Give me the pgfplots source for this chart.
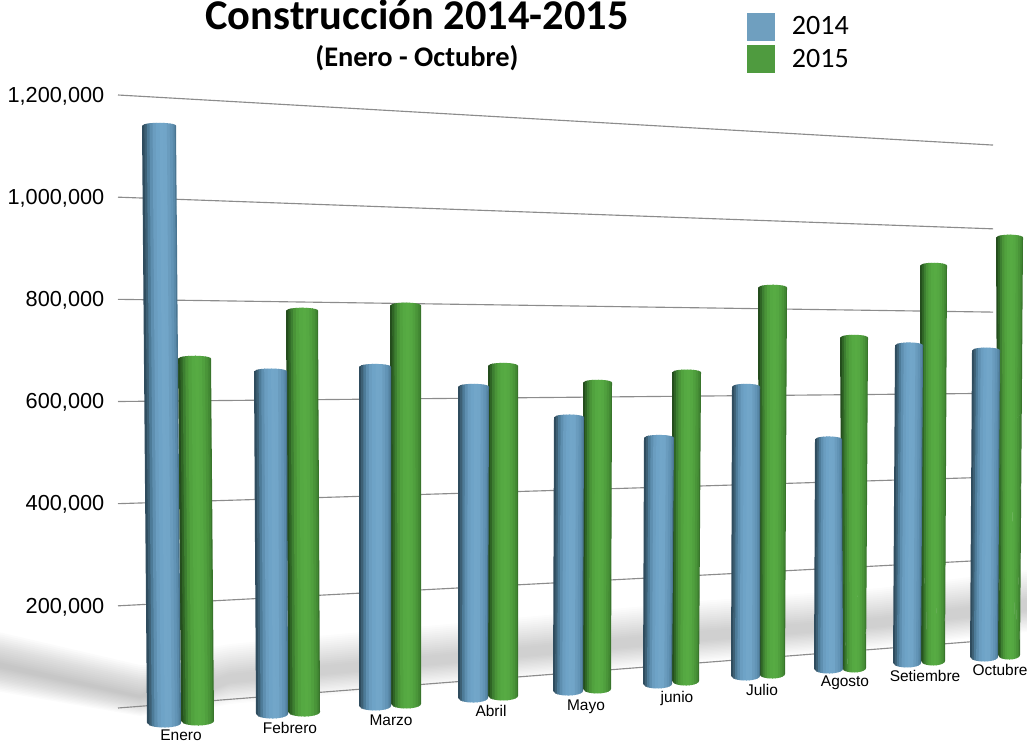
\documentclass[border=0pt]{standalone}
\usepackage{pgfplots}
\pgfplotsset{compat=1.18}
\usepackage{fontspec}
\setmainfont{Liberation Sans}
\newfontfamily\calfont{Carlito}
\definecolor{bS1}{HTML}{2F4C5E}\definecolor{bS2}{HTML}{3D6075}\definecolor{bS3}{HTML}{4D7B98}\definecolor{bS4}{HTML}{5E8FB0}
\definecolor{bS5}{HTML}{6A9DC0}\definecolor{bS6}{HTML}{6EA3C7}\definecolor{bS7}{HTML}{72A6C9}\definecolor{bS8}{HTML}{71A5C8}
\definecolor{bS9}{HTML}{6A9CBE}\definecolor{bS10}{HTML}{6294B6}\definecolor{bS11}{HTML}{5A8AAA}\definecolor{bS12}{HTML}{4A7591}
\definecolor{gS1}{HTML}{244D1D}\definecolor{gS2}{HTML}{2F6525}\definecolor{gS3}{HTML}{3D7F31}\definecolor{gS4}{HTML}{4A9438}
\definecolor{gS5}{HTML}{51A23E}\definecolor{gS6}{HTML}{55A942}\definecolor{gS7}{HTML}{57AB43}\definecolor{gS8}{HTML}{55A842}
\definecolor{gS9}{HTML}{50A03E}\definecolor{gS10}{HTML}{4A9539}\definecolor{gS11}{HTML}{438A34}\definecolor{gS12}{HTML}{39752C}
\definecolor{legb}{HTML}{6F9FBF}
\definecolor{legg}{HTML}{4F9B3F}
% one vertical strip of a cylinder, from fraction #7 to fraction #8 of its width
\newcommand\strip[9]{%
  \addplot[draw=none, fill=#9, forget plot] coordinates {
    ({#1+#7*(#2-#1)},{#5-5000+5600*sqrt(1-(2*#7-1)^2)})
    ({#1+#8*(#2-#1)},{#5-5000+5600*sqrt(1-(2*#8-1)^2)})
    ({#3+#8*(#4-#3)},{#6+8000-9000*sqrt(1-(2*#8-1)^2)})
    ({#3+#7*(#4-#3)},{#6+8000-9000*sqrt(1-(2*#7-1)^2)})
  } --cycle;}
% one cylinder: series, x top left, x top right, x base left, x base right, top value, base value
\newcommand\cyl[7]{%
  \strip{#2}{#3}{#4}{#5}{#6}{#7}{0}{.09}{#1S1}%
  \strip{#2}{#3}{#4}{#5}{#6}{#7}{.07}{.16}{#1S2}%
  \strip{#2}{#3}{#4}{#5}{#6}{#7}{.14}{.24}{#1S3}%
  \strip{#2}{#3}{#4}{#5}{#6}{#7}{.22}{.33}{#1S4}%
  \strip{#2}{#3}{#4}{#5}{#6}{#7}{.31}{.43}{#1S5}%
  \strip{#2}{#3}{#4}{#5}{#6}{#7}{.41}{.54}{#1S6}%
  \strip{#2}{#3}{#4}{#5}{#6}{#7}{.52}{.65}{#1S7}%
  \strip{#2}{#3}{#4}{#5}{#6}{#7}{.63}{.75}{#1S8}%
  \strip{#2}{#3}{#4}{#5}{#6}{#7}{.73}{.84}{#1S9}%
  \strip{#2}{#3}{#4}{#5}{#6}{#7}{.82}{.92}{#1S10}%
  \strip{#2}{#3}{#4}{#5}{#6}{#7}{.90}{.98}{#1S11}%
  \strip{#2}{#3}{#4}{#5}{#6}{#7}{.96}{1}{#1S12}%
}
\colorlet{gridc}{black!45}
\newcommand\grid[4]{\addplot[gridc, line width=0.85pt, forget plot] coordinates {(#1,#2)(#3,#4)};}
\begin{document}
\begin{tikzpicture}
\useasboundingbox (0,0) rectangle (770.25pt,555pt);
% soft floor shadow (decoration only)
\begin{scope}[x=0.75pt,y=-0.75pt,yshift=555pt]
\foreach \d in {0,2,...,30}{
  % left band
  \fill[black,opacity=0.017] (-10,{662-32+\d}) -- (140,{697-32+\d}) -- ({215-2*\d},{690-22+\d*0.7})
     -- ({215-2*\d},{704-\d*0.3}) -- (140,{716-\d*0.6}) -- (-10,{690-\d*0.8}) -- cycle;
  % right band, along the floor
  \fill[black,opacity=0.010] ({170+\d},{688-34+\d}) -- (230,{678-34+\d}) -- (700,{635-34+\d}) -- (880,{622-34+\d}) -- (1027,{604-34+\d})
     -- (1027,{632-\d*0.7}) -- (880,{648-\d*0.7}) -- (700,{662-\d*0.7}) -- (230,{704-\d*0.7}) -- ({170+\d},{716-\d*0.7}) -- cycle;
}
\end{scope}
\begin{axis}[
  scale only axis, width=770.25pt, height=555pt,
  xmin=0, xmax=1027, ymin=-62643, ymax=1385980,
  clip=false,
  axis line style={draw=none},
  xtick=\empty,
  ytick={200000,400000,600000,800000,1000000,1200000},
  major tick length=0pt,
  scaled y ticks=false,
  /pgf/number format/assume math mode=true,
  y tick label style={/pgf/number format/.cd, fixed, 1000 sep={,}, /tikz/.cd, font=\fontsize{16.3}{18}\selectfont, anchor=east, xshift=81.75pt, yshift=-0.75pt},
  legend style={draw=none, fill=none, at={(axis cs:747,1362000)}, anchor=north west, font=\calfont\fontsize{21}{22}\selectfont, row sep=3.5pt, inner sep=0pt, legend cell align=left},
]
\addlegendimage{legend image code/.code={\fill[legb,draw=none] (0pt,-10.5pt) rectangle (21pt,10.5pt);\path[draw=none] (21pt,0) -- (31.5pt,0);}}
\addlegendentry{2014}
\addlegendimage{legend image code/.code={\fill[legg,draw=none] (0pt,-10.5pt) rectangle (21pt,10.5pt);\path[draw=none] (21pt,0) -- (31.5pt,0);}}
\addlegendentry{2015}
% gridlines: value at the left edge, value at the right edge
\grid{118}{1200000}{993}{1102000}
\grid{118}{1000000}{993}{938000}
\grid{118}{800000}{993}{775000}
\grid{118}{600000}{993}{616000}
\grid{118}{400000}{993}{452000}
\grid{118}{200000}{993}{290000}
\grid{118}{0}{993}{133000}
% 2015 first, 2014 over it where they meet at the base
\cyl{g}{178}{211}{181}{214}{689000}{-33300}
\cyl{g}{286}{318}{288}{320}{783000}{-15700}
\cyl{g}{390}{421}{391}{421}{793000}{0}
\cyl{g}{488}{518}{488}{518}{675000}{15700}
\cyl{g}{583}{612}{583}{611}{642000}{29400}
\cyl{g}{672}{701}{672}{699}{662000}{45000}
\cyl{g}{758}{787}{759}{785}{828000}{58700}
\cyl{g}{840}{868}{842}{866}{730000}{70500}
\cyl{g}{920}{947}{921}{945}{871000}{84200}
\cyl{g}{996}{1023}{998}{1020}{926000}{95900}
\cyl{b}{142}{176}{147}{181}{1145000}{-37200}
\cyl{b}{254}{287}{256}{288}{664000}{-19600}
\cyl{b}{359}{391}{359}{391}{673000}{-3900}
\cyl{b}{458}{489}{458}{488}{634000}{11700}
\cyl{b}{554}{584}{553}{583}{574000}{25400}
\cyl{b}{644}{674}{643}{672}{534000}{39200}
\cyl{b}{732}{760}{731}{760}{634000}{54800}
\cyl{b}{815}{842}{814}{843}{531000}{68500}
\cyl{b}{895}{923}{893}{921}{715000}{80300}
\cyl{b}{972}{1000}{970}{998}{705000}{92000}
% month names, placed under each pair
\node[font=\fontsize{11.6}{12}\selectfont] at (axis cs:181,-53000) {Enero};
\node[font=\fontsize{11.6}{12}\selectfont] at (axis cs:290,-39000) {Febrero};
\node[font=\fontsize{11.6}{12}\selectfont] at (axis cs:391,-23000) {Marzo};
\node[font=\fontsize{11.6}{12}\selectfont] at (axis cs:491,-5000) {Abril};
\node[font=\fontsize{11.6}{12}\selectfont] at (axis cs:586,2000) {Mayo};
\node[font=\fontsize{11.6}{12}\selectfont] at (axis cs:677,18000) {junio};
\node[font=\fontsize{11.6}{12}\selectfont] at (axis cs:762,35000) {Julio};
\node[font=\fontsize{11.6}{12}\selectfont] at (axis cs:845,49000) {Agosto};
\node[font=\fontsize{11.6}{12}\selectfont] at (axis cs:925,62000) {Setiembre};
\node[font=\fontsize{11.6}{12}\selectfont] at (axis cs:1000,75000) {Octubre};
% titles
\node[font=\calfont\bfseries\fontsize{31.8}{34}\selectfont, anchor=center] at (axis cs:417,1358000) {Construcción 2014-2015};
\node[font=\calfont\bfseries\fontsize{21.3}{24}\selectfont, anchor=center] at (axis cs:417,1272000) {(Enero - Octubre)};
\end{axis}
\end{tikzpicture}
\end{document}
